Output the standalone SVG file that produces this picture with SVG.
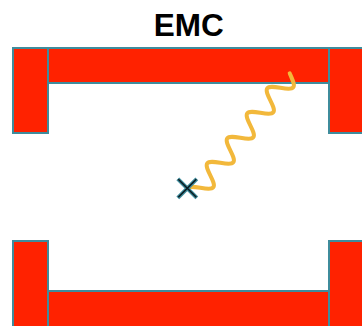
<svg xmlns="http://www.w3.org/2000/svg" width="362" height="326" viewBox="0 0 362 326">
  <style>
    .wall { fill: #ff2200; stroke: #3f8c9c; stroke-width: 2; }
    .title { font-family: "Liberation Sans", Arial, sans-serif; font-weight: bold; font-size: 31.5px; fill: #000; }
    .wave { fill: none; stroke: #f2b83b; stroke-width: 4; stroke-linecap: round; stroke-linejoin: round; }
    .xo { stroke: #3f8c9c; stroke-width: 4; stroke-linecap: butt; }
    .xi { stroke: #0a1a20; stroke-width: 1.6; stroke-linecap: butt; }
  </style>
  <rect width="362" height="326" fill="#ffffff"/>
  <text class="title" x="188.7" y="36" text-anchor="middle">EMC</text>
  <g id="top-wall">
    <rect class="wall" x="13" y="48" width="35" height="85"/>
    <rect class="wall" x="48" y="48" width="281" height="35"/>
    <rect class="wall" x="329" y="48" width="40" height="85"/>
  </g>
  <g id="bottom-wall">
    <rect class="wall" x="13" y="241" width="35" height="92"/>
    <rect class="wall" x="48" y="291" width="281" height="42"/>
    <rect class="wall" x="329" y="241" width="40" height="92"/>
  </g>
  <g id="photon">
    <path class="wave" d="M187.3,188.3
      c1.81,-2.26 7.27,-1.41 13,-0.5 c5.73,0.91 11.19,1.76 13,-0.5 c1.81,-2.26 -0.53,-7.02 -3,-12 c-2.47,-4.98 -4.81,-9.74 -3,-12
      c1.81,-2.26 7.27,-1.41 13,-0.5 c5.73,0.91 11.19,1.76 13,-0.5 c1.81,-2.26 -0.53,-7.02 -3,-12 c-2.47,-4.98 -4.81,-9.74 -3,-12
      c1.81,-2.26 7.27,-1.41 13,-0.5 c5.73,0.91 11.19,1.76 13,-0.5 c1.81,-2.26 -0.53,-7.02 -3,-12 c-2.47,-4.98 -4.81,-9.74 -3,-12
      c1.81,-2.26 7.27,-1.41 13,-0.5 c5.73,0.91 11.19,1.76 13,-0.5 c1.81,-2.26 -0.53,-7.02 -3,-12 c-2.47,-4.98 -4.81,-9.74 -3,-12
      c1.81,-2.26 7.27,-1.41 13,-0.5 c5.73,0.91 11.19,1.76 13,-0.5 c1.81,-2.26 -0.53,-7.02 -3.6,-14"/>
  </g>
  <g id="source">
    <path class="xo" d="M177.8,178.8 L196.8,197.8 M196.8,178.8 L177.8,197.8"/>
    <path class="xi" d="M178.3,179.3 L196.3,197.3 M196.3,179.3 L178.3,197.3"/>
  </g>
</svg>
